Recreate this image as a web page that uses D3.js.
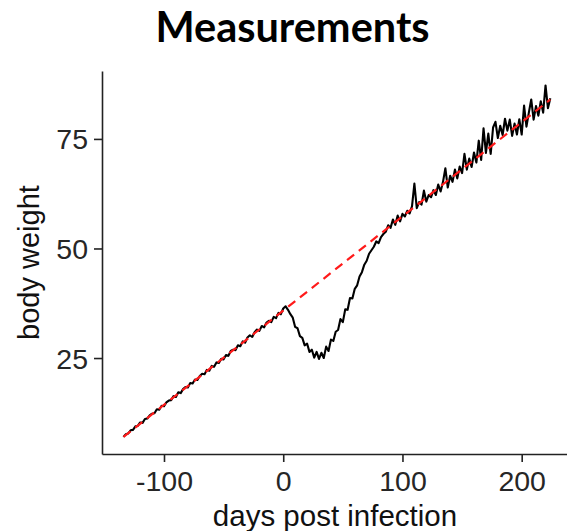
<!DOCTYPE html>
<html>
<head>
<meta charset="utf-8">
<script src="https://cdn.jsdelivr.net/npm/d3@7"></script>
<style>
  html, body { margin: 0; padding: 0; background: #fff; }
  svg { display: block; }
</style>
</head>
<body>
<svg id="chart" width="567" height="531"></svg>
<script>
// ---- Data ----
const title = "Measurements";
const xLabel = "days post infection";
const yLabel = "body weight";
const xTicks = [-100, 0, 100, 200];
const yTicks = [25, 50, 75];

// days of measurement (every 2 days)
const days = [
  -134,-132,-130,-128,-126,-124,-122,-120,-118,-116,
  -114,-112,-110,-108,-106,-104,-102,-100,-98,-96,
  -94,-92,-90,-88,-86,-84,-82,-80,-78,-76,
  -74,-72,-70,-68,-66,-64,-62,-60,-58,-56,
  -54,-52,-50,-48,-46,-44,-42,-40,-38,-36,
  -34,-32,-30,-28,-26,-24,-22,-20,-18,-16,
  -14,-12,-10,-8,-6,-4,-2,0,2,4,
  6,8,10,12,14,16,18,20,22,24,
  26,28,30,32,34,36,38,40,42,44,
  46,48,50,52,54,56,58,60,62,64,
  66,68,70,72,74,76,78,80,82,84,
  86,88,90,92,94,96,98,100,102,104,
  106,108,110,112,114,116,118,120,122,124,
  126,128,130,132,134,136,138,140,142,144,
  146,148,150,152,154,156,158,160,162,164,
  166,168,170,172,174,176,178,180,182,184,
  186,188,190,192,194,196,198,200,202,204,
  206,208,210,212,214,216,218,220,222,224
];
// measured body weight
const weight = [
  7.0, 7.6, 7.8, 8.5, 8.6, 9.4, 9.5, 10.3, 10.2, 11.1,
  11.2, 11.9, 12.3, 12.4, 13.3, 13.2, 14.1, 14.0, 14.9, 15.3,
  15.4, 16.3, 16.1, 17.2, 17.0, 17.9, 18.4, 18.3, 19.3, 19.2,
  20.1, 20.0, 20.9, 21.4, 21.3, 22.3, 22.1, 23.2, 23.0, 24.0,
  23.9, 24.8, 24.7, 25.7, 25.5, 26.6, 26.9, 26.8, 27.9, 27.7,
  28.8, 28.5, 29.7, 30.2, 29.8, 30.9, 31.5, 31.2, 32.3, 32.0,
  33.1, 33.5, 33.2, 34.4, 34.1, 35.3, 35.0, 36.3, 36.8, 36.0,
  35.0, 34.2, 32.1, 31.8, 30.0, 29.6, 27.9, 28.3, 26.4, 26.9,
  25.1, 26.4, 24.8, 26.2, 25.0, 27.6, 26.6, 29.2, 28.9, 31.0,
  31.4, 33.9, 33.2, 36.1, 36.0, 38.7, 38.6, 40.8, 41.6, 43.6,
  44.6, 46.3, 47.2, 48.8, 49.6, 50.4, 51.6, 51.2, 52.6, 53.3,
  53.8, 55.3, 54.7, 56.6, 55.4, 57.5, 56.2, 57.9, 57.3, 58.6,
  58.0, 59.6, 64.8, 59.2, 60.6, 60.0, 63.2, 60.7, 62.2, 61.7,
  63.3, 62.2, 64.6, 63.0, 65.2, 68.3, 63.9, 66.6, 65.2, 68.0,
  66.0, 68.7, 67.2, 71.6, 68.0, 70.5, 68.6, 71.9, 69.6, 74.6,
  70.2, 77.4, 71.8, 76.2, 71.6, 77.6, 78.9, 75.2, 78.0, 75.9,
  79.6, 76.9, 79.4, 75.7, 78.5, 76.0, 79.5, 76.0, 82.6, 77.8,
  81.0, 84.0, 79.4, 82.5, 80.3, 83.6, 81.0, 87.2, 82.0, 84.3
];
// fitted linear trend (red dashed) end points
const fitDays = [-134, 224];
const fitWeight = [7.0, 84.0];

// ---- Layout ----
const svg = d3.select("#chart");
const x = d3.scaleLinear().domain([-152, 238]).range([102, 567]);
const y = d3.scaleLinear().domain([3.1, 90.5]).range([454, 71]);

const axisColor = "#222";
const fontFam = "'Liberation Sans', Arial, sans-serif";

// Title
svg.append("text")
  .attr("x", 292.5).attr("y", 42)
  .attr("text-anchor", "middle")
  .attr("font-family", "Lato, 'Open Sans', sans-serif")
  .attr("font-weight", "bold")
  .attr("font-size", 41.5)
  .attr("fill", "#000")
  .text(title);

// Axes
const gx = svg.append("g").attr("transform", "translate(0,454)")
  .call(d3.axisBottom(x).tickValues(xTicks).tickSize(8).tickSizeOuter(0).tickFormat(d => String(d)));
const gy = svg.append("g").attr("transform", "translate(102,0)")
  .call(d3.axisLeft(y).tickValues(yTicks).tickSize(8).tickSizeOuter(0).tickFormat(d => String(d)));

[gx, gy].forEach(g => {
  g.select(".domain").attr("stroke", axisColor).attr("stroke-width", 1.6);
  g.selectAll(".tick line").attr("stroke", axisColor).attr("stroke-width", 1.6);
  g.selectAll(".tick text")
    .attr("fill", "#262626")
    .attr("font-family", fontFam)
    .attr("font-size", 28.5);
});
gx.selectAll(".tick text").attr("y", 37).attr("dy", 0);
gy.selectAll(".tick text").attr("x", -14).attr("dy", "0.35em");

// Axis titles
svg.append("text")
  .attr("x", 335).attr("y", 526)
  .attr("text-anchor", "middle")
  .attr("font-family", fontFam)
  .attr("font-size", 29.5)
  .attr("fill", "#111")
  .text(xLabel);

svg.append("text")
  .attr("transform", "translate(39,262.5) rotate(-90)")
  .attr("text-anchor", "middle")
  .attr("font-family", fontFam)
  .attr("font-size", 29)
  .attr("fill", "#111")
  .text(yLabel);

// Data line
const series = days.map((d, i) => [d, weight[i]]);
svg.append("path")
  .datum(series)
  .attr("fill", "none")
  .attr("stroke", "#000")
  .attr("stroke-width", 2.1)
  .attr("stroke-linejoin", "round")
  .attr("d", d3.line().x(d => x(d[0])).y(d => y(d[1])));

// Trend line
const fit = fitDays.map((d, i) => [d, fitWeight[i]]);
svg.append("path")
  .datum(fit)
  .attr("fill", "none")
  .attr("stroke", "#ff1a1a")
  .attr("stroke-width", 2.2)
  .attr("stroke-dasharray", "9,6")
  .attr("d", d3.line().x(d => x(d[0])).y(d => y(d[1])));
</script>
</body>
</html>
